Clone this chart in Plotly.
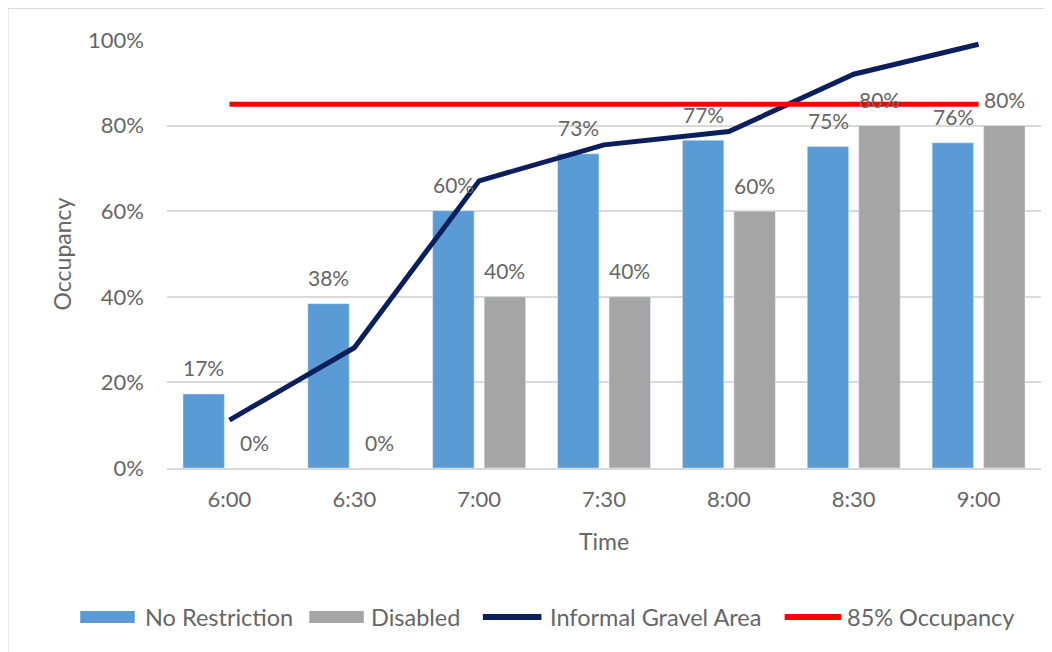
import plotly.graph_objects as go

times = ["6:00", "6:30", "7:00", "7:30", "8:00", "8:30", "9:00"]
no_restriction = [0.173, 0.384, 0.601, 0.734, 0.766, 0.751, 0.760]
disabled = [0.0, 0.0, 0.40, 0.40, 0.60, 0.80, 0.80]
informal_gravel = [0.112, 0.281, 0.671, 0.755, 0.786, 0.920, 0.990]
threshold = [0.85] * len(times)

BLUE = "#5B9BD5"
GRAY = "#A5A5A5"
NAVY = "#0B1F5C"
RED = "#FF0000"
TXT = "#666666"
FONT = "Lato, 'Open Sans', sans-serif"

fig = go.Figure()
fig.add_trace(go.Bar(x=times, y=no_restriction, name="No Restriction", marker_color=BLUE,
                     showlegend=False))
fig.add_trace(go.Bar(x=times, y=disabled, name="Disabled", marker_color=GRAY,
                     showlegend=False))
fig.add_trace(go.Scatter(x=times, y=informal_gravel, mode="lines", name="Informal Gravel Area",
                         line=dict(color=NAVY, width=5), showlegend=False))
fig.add_trace(go.Scatter(x=times, y=threshold, mode="lines", name="85% Occupancy",
                         line=dict(color=RED, width=5), showlegend=False))

# data labels above each bar
annotations = []
for series, shift in [(no_restriction, -25.5), (disabled, 25.5)]:
    for t, v in zip(times, series):
        annotations.append(dict(x=t, y=v, xref="x", yref="y", text=f"{v:.0%}",
                                showarrow=False, xshift=shift, yshift=26,
                                yanchor="middle", xanchor="center",
                                font=dict(size=21, color=TXT, family=FONT)))

# plot-area pixel geometry (page coords) used to place the legend key
PX0, PX1, PY0, PY1 = 167.0, 1033.0, 468.0, 40.0
def px(x):
    return (x - PX0) / (PX1 - PX0)
def py(y):
    return (PY0 - y) / (PY0 - PY1)

LEG_Y = 617
legend_items = [
    ("No Restriction", BLUE, 81, 135, 12, 143),
    ("Disabled", GRAY, 308, 362, 12, 367),
    ("Informal Gravel Area", NAVY, 480, 538, 6, 545),
    ("85% Occupancy", RED, 779, 835, 6, 839),
]
shapes = [dict(type="rect", xref="paper", yref="paper",
               x0=px(9), x1=1.2, y0=-0.6, y1=py(8),
               line=dict(color="#D9D9D9", width=2), layer="below")]
for name, color, x0, x1, thick, tx in legend_items:
    if thick > 8:
        shapes.append(dict(type="rect", xref="paper", yref="paper",
                           x0=px(x0), x1=px(x1), y0=py(LEG_Y + thick / 2), y1=py(LEG_Y - thick / 2),
                           line=dict(width=0), fillcolor=color))
    else:
        shapes.append(dict(type="line", xref="paper", yref="paper",
                           x0=px(x0), x1=px(x1), y0=py(LEG_Y), y1=py(LEG_Y),
                           line=dict(color=color, width=thick)))
    annotations.append(dict(x=px(tx), y=py(LEG_Y), xref="paper", yref="paper", text=name,
                            showarrow=False, xanchor="left", yanchor="middle",
                            font=dict(size=23.5, color=TXT, family=FONT)))

fig.update_layout(
    width=1044, height=644,
    margin=dict(l=159, r=11, t=32, b=184),
    paper_bgcolor="white", plot_bgcolor="white",
    font=dict(family=FONT, color=TXT, size=22),
    barmode="group", bargap=0.175, bargroupgap=0.196,
    showlegend=False,
    annotations=annotations,
    shapes=shapes,
)
fig.update_yaxes(range=[0, 1.0], tickvals=[0, 0.2, 0.4, 0.6, 0.8, 1.0], tickformat=".0%",
                 showgrid=True, gridcolor="#D9D9D9", gridwidth=1.5, zeroline=False,
                 showline=False, ticks="", ticklabelstandoff=22,
                 title=dict(text="Occupancy", font=dict(size=23, color=TXT), standoff=10),
                 tickfont=dict(size=22, color=TXT))
fig.update_xaxes(showgrid=False, showline=True, linecolor="#D9D9D9", linewidth=1.5, ticks="",
                 tickfont=dict(size=22, color=TXT), ticklabelstandoff=11,
                 title=dict(text="Time", font=dict(size=23, color=TXT), standoff=23))

fig.write_html("out.html")
